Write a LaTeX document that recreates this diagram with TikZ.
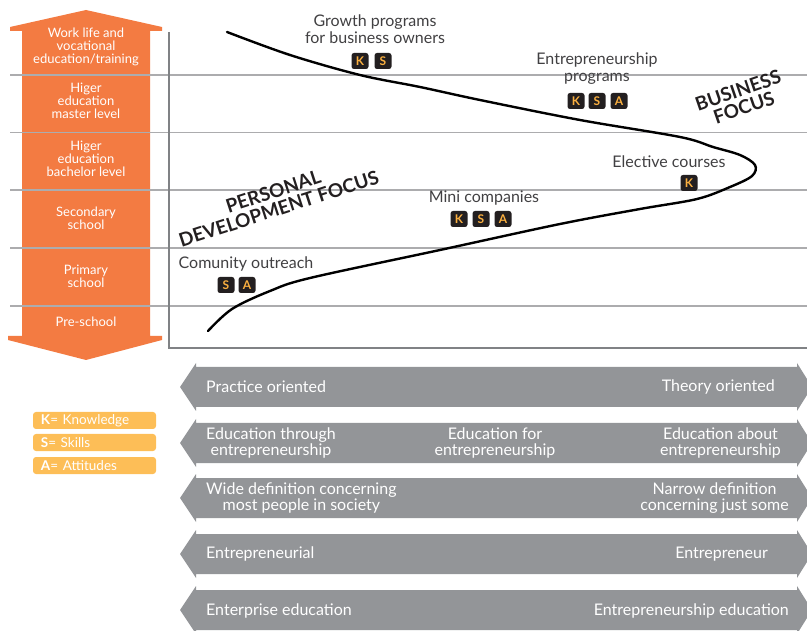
\documentclass[tikz,border=0pt]{standalone}
\usepackage{fontspec}
\setmainfont{Lato}
\usepackage{tikz}
\usetikzlibrary{calc}
\definecolor{levelorange}{RGB}{243,123,66}
\definecolor{bargray}{RGB}{147,149,152}
\definecolor{gridgray}{RGB}{172,172,174}
\definecolor{axisgray}{RGB}{128,130,133}
\definecolor{ksagold}{RGB}{251,176,64}
\definecolor{legendgold}{RGB}{253,190,87}
\definecolor{badgebg}{RGB}{35,31,32}
\definecolor{labeltext}{RGB}{65,64,66}
% double-headed gray bar, centred on height #1
\def\scalebar(#1){\fill[bargray] (180,#1) -- (196,#1-24) -- (196,#1-20) -- (797,#1-20) -- (797,#1-24) -- (812,#1) -- (797,#1+24) -- (797,#1+20) -- (196,#1+20) -- (196,#1+24) -- cycle;}
\tikzset{
  levellabel/.style={text=white, align=center, font=\fontsize{13}{13}\selectfont, inner sep=0pt},
  barlabel/.style={text=white, align=center, font=\fontsize{16}{16}\selectfont, inner sep=0pt},
  chartlabel/.style={text=labeltext, align=center, font=\fontsize{16}{17}\selectfont, inner sep=0pt},
  badge/.style={fill=badgebg, text=ksagold, rounded corners=2.5pt, minimum width=17pt, minimum height=16pt, inner sep=0pt, font=\fontsize{12}{12}\selectfont\bfseries},
  focuslabel/.style={text=badgebg, align=center, font=\fontsize{19}{18}\selectfont\bfseries, inner sep=0pt},
  legendbox/.style={fill=legendgold, rounded corners=3pt, minimum width=123pt, minimum height=17pt, text width=107pt, inner xsep=8pt, inner ysep=0pt, align=left, text=white, font=\fontsize{13.5}{13.5}\selectfont},
  gridline/.style={gridgray, line width=1.2pt},
}
\begin{document}
\begin{tikzpicture}[x=1pt, y=-1pt]
			%%%%% START %%%%%
			\useasboundingbox (0,0) rectangle (807,631);
			
			% school levels arrow
			\fill[levelorange] (86,10) -- (162,27) -- (162,31) -- (150,31) -- (150,336) -- (162,336) -- (162,340) -- (86,360) -- (8,340) -- (8,336) -- (22,336) -- (22,31) -- (10,31) -- (10,27) -- cycle;
			
			\draw[gridline] (10,75) -- (807,75);
			\draw[gridline] (10,132.5) -- (807,132.5);
			\draw[gridline] (10,190) -- (807,190);
			\draw[gridline] (10,248) -- (807,248);
			\draw[gridline] (10,306) -- (807,306);
			
			\draw[axisgray, line width=1.5pt] (169,32) -- (169,348) -- (807,348);
			
			\node[levellabel] (lvlwork) at (86,47) {Work life and\\vocational\\education/training};
			\node[levellabel] (lvlmaster) at (86,101) {Higer\\education\\master level};
			\node[levellabel] (lvlbachelor) at (86,159) {Higer\\education\\bachelor level};
			\node[levellabel] (lvlsecondary) at (86,218) {Secondary\\school};
			\node[levellabel] (lvlprimary) at (86,276) {Primary\\school};
			\node[levellabel] (lvlpre) at (86,322) {Pre-school};
			
			% the focus curve
			\draw[line width=2.4pt, line cap=round] plot[smooth, tension=0.55] coordinates {(208,331) (232,309) (270,291) (310,278) (440,250) (560,224) (640,209) (697,199) (730,187) (752,176) (755,165) (740,155) (713,147) (680,137) (580,120) (480,100) (420,87) (360,75) (290,55) (227,32)};
			
			\node[chartlabel] (growth) at (375,29) {Growth programs\\for business owners};
			\node[badge] (growthK) at (360,61) {K};
			\node[badge] (growthS) at (383,61) {S};
			
			\node[chartlabel] (entprog) at (597,69) {Entrepreneurship\\programs};
			\node[badge] (entprogK) at (576,101) {K};
			\node[badge] (entprogS) at (597,101) {S};
			\node[badge] (entprogA) at (619,101) {A};
			
			\node[chartlabel] (elective) at (669,162) {Elective courses};
			\node[badge] (electiveK) at (689,183) {K};
			
			\node[chartlabel] (mini) at (484,198) {Mini companies};
			\node[badge] (miniK) at (459,219) {K};
			\node[badge] (miniS) at (481,219) {S};
			\node[badge] (miniA) at (503,219) {A};
			
			\node[chartlabel] (outreach) at (246,264) {Comunity outreach};
			\node[badge] (outreachS) at (226,285) {S};
			\node[badge] (outreachA) at (247,285) {A};
			
			\node[focuslabel, rotate=19] (busfocus) at (741,99) {BUSINESS\\FOCUS};
			\node[focuslabel, rotate=18] (persfocus) at (276,200) {PERSONAL\\DEVELOPMENT FOCUS};
			
			% legend
			\node[legendbox] (legK) at (94.5,420.5) {\textbf{K}= Knowledge};
			\node[legendbox] (legS) at (94.5,442.5) {\textbf{S}= Skills};
			\node[legendbox] (legA) at (94.5,465.5) {\textbf{A}= Attitudes};
			
			% scales
			\scalebar(387)
			\scalebar(443)
			\scalebar(498)
			\scalebar(554)
			\scalebar(610)
			
			\node[barlabel, anchor=west] (practice) at (206,387) {Practice oriented};
			\node[barlabel, anchor=east] (theory) at (775,387) {Theory oriented};
			
			\node[barlabel, anchor=west] (edthrough) at (206,443) {Education through\\entrepreneurship};
			\node[barlabel] (edfor) at (495,443) {Education for\\entrepreneurship};
			\node[barlabel, anchor=east] (edabout) at (781,443) {Education about\\entrepreneurship};
			
			\node[barlabel, anchor=west] (widedef) at (206,498) {Wide definition concerning\\most people in society};
			\node[barlabel, anchor=east] (narrowdef) at (789,498) {Narrow definition\\concerning just some};
			
			\node[barlabel, anchor=west] (entrial) at (206,554) {Entrepreneurial};
			\node[barlabel, anchor=east] (entreur) at (768,554) {Entrepreneur};
			
			\node[barlabel, anchor=west] (enterprise) at (206,611) {Enterprise education};
			\node[barlabel, anchor=east] (entedu) at (789,611) {Entrepreneurship education};
			
			%%%%% END %%%%%
\end{tikzpicture}
\end{document}
